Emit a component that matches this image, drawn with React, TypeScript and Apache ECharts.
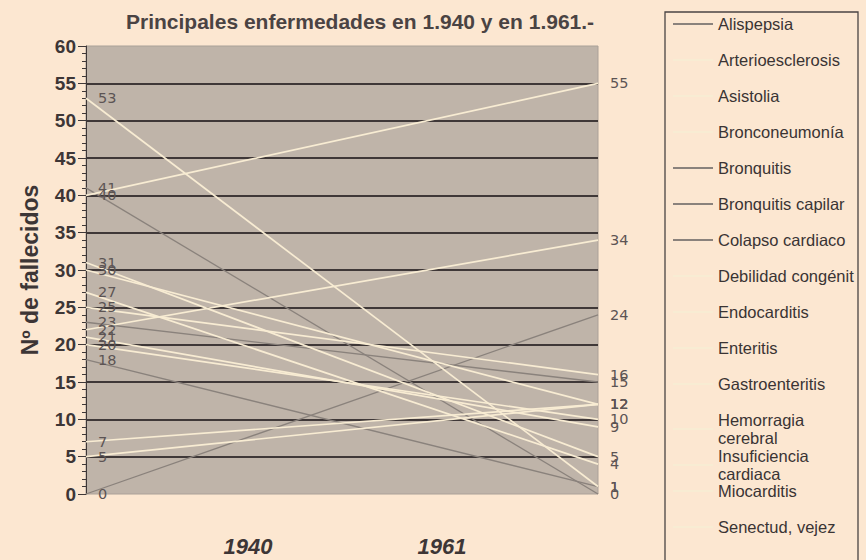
import React, { useEffect, useRef } from "react";
import * as echarts from "echarts";

// ---- data ----
const years = ["1940", "1961"];
const diseases = [
  "Alispepsia",
  "Arterioesclerosis",
  "Asistolia",
  "Bronconeumonía",
  "Bronquitis",
  "Bronquitis capilar",
  "Colapso cardiaco",
  "Debilidad congénita",
  "Endocarditis",
  "Enteritis",
  "Gastroenteritis",
  "Hemorragia cerebral",
  "Insuficiencia cardiaca",
  "Miocarditis",
  "Senectud, vejez",
];
const deaths1940 = [18, 22, 27, 53, 23, 41, 0, 25, 21, 31, 30, 7, 5, 20, 40];
const deaths1961 = [1, 34, 4, 1, 15, 0, 24, 16, 9, 5, 12, 12, 12, 10, 55];
const grayDiseases = ["Alispepsia", "Bronquitis", "Bronquitis capilar", "Colapso cardiaco"];
const wrappedNames = ["Hemorragia cerebral", "Insuficiencia cardiaca"];
const title = "Principales enfermedades en 1.940 y en 1.961.-";
const yName = "Nº de fallecidos";

// ---- styles ----
const BG = "#fce7d1";
const PLOT_BG = "#bfb4a9";
const CREAM = "#f8ecd3";
const GRAY = "#8a827c";
const DARK = "#3f3838";

export default function App() {
  const ref = useRef<HTMLDivElement>(null);

  useEffect(() => {
    if (!ref.current) return;
    const chart = echarts.init(ref.current, undefined, { renderer: "svg" });

    const series = diseases.map((name, i) => {
      const gray = grayDiseases.includes(name);
      return {
        name,
        type: "line",
        xAxisIndex: 0,
        yAxisIndex: 0,
        data: [deaths1940[i], deaths1961[i]],
        symbol: "circle",
        symbolSize: 0,
        showSymbol: true,
        lineStyle: { color: gray ? GRAY : CREAM, width: gray ? 1.3 : 1.7 },
        itemStyle: { color: gray ? GRAY : CREAM },
        label: {
          show: true,
          position: "right",
          distance: 12,
          formatter: "{c}",
          fontFamily: "DejaVu Sans",
          fontSize: 14.5,
          color: "#5c5454",
        },
        emphasis: { disabled: true },
        z: gray ? 2 : 3,
      };
    });

    const legendBase = {
      orient: "vertical",
      left: 672,
      itemWidth: 40,
      itemHeight: 2,
      padding: 0,
      selectedMode: false,
      itemStyle: { opacity: 0 },
      formatter: (name: string) =>
        wrappedNames.includes(name) ? name.replace(" ", "\n") : name,
      textStyle: {
        fontFamily: "Liberation Sans",
        fontSize: 16.5,
        lineHeight: 18,
        color: "#3a3434",
        width: 141,
        overflow: "truncate",
        ellipsis: "",
      },
    };

    const firstGroup = diseases.filter(
      (d) => !wrappedNames.includes(d) && d !== "Miocarditis" && d !== "Senectud, vejez"
    );
    const lastGroup = ["Miocarditis", "Senectud, vejez"];

    chart.setOption({
      animation: false,
      backgroundColor: BG,
      title: {
        text: title,
        left: 121,
        top: 6,
        textStyle: {
          fontFamily: "Liberation Sans",
          fontSize: 21,
          fontWeight: "bold",
          color: "#4a4343",
        },
      },
      legend: [
        { ...legendBase, top: 15, itemGap: 18, data: firstGroup },
        { ...legendBase, top: 411, itemGap: 0, data: wrappedNames },
        { ...legendBase, top: 482, itemGap: 18, data: lastGroup },
      ],
      grid: [
        {
          left: 86,
          top: 46,
          width: 512,
          height: 448,
          show: true,
          backgroundColor: PLOT_BG,
          borderColor: "#aaa198",
          borderWidth: 1,
        },
        { left: 151, top: 46, width: 388, height: 448 },
      ],
      xAxis: [
        {
          type: "category",
          gridIndex: 0,
          data: years,
          boundaryGap: false,
          axisLine: { show: false },
          axisTick: { show: false },
          axisLabel: { show: false },
          splitLine: { show: false },
        },
        {
          type: "category",
          gridIndex: 1,
          data: years,
          boundaryGap: true,
          axisLine: { show: false },
          axisTick: { show: false },
          splitLine: { show: false },
          axisLabel: {
            margin: 41,
            fontFamily: "Liberation Sans",
            fontSize: 22,
            fontWeight: "bold",
            fontStyle: "italic",
            color: "#3d3636",
          },
        },
      ],
      yAxis: [
        {
          type: "value",
          gridIndex: 0,
          min: 0,
          max: 60,
          interval: 5,
          name: yName,
          nameLocation: "middle",
          nameRotate: 90,
          nameGap: 45,
          nameTextStyle: {
            fontFamily: "Liberation Sans",
            fontSize: 23,
            fontWeight: "bold",
            color: "#3d3636",
          },
          axisLine: { show: true, lineStyle: { color: DARK, width: 1 } },
          axisTick: { show: true, length: 8, lineStyle: { color: DARK } },
          minorTick: { show: true, splitNumber: 5, length: 4, lineStyle: { color: DARK } },
          axisLabel: {
            margin: 10,
            fontFamily: "Liberation Sans",
            fontSize: 19,
            fontWeight: "bold",
            color: "#3d3636",
          },
          splitLine: {
            show: true,
            lineStyle: {
              color: [
                "rgba(0,0,0,0)",
                DARK, DARK, DARK, DARK, DARK, DARK, DARK, DARK, DARK, DARK, DARK,
                "rgba(0,0,0,0)",
              ],
              width: 1.8,
            },
          },
        },
        { type: "value", gridIndex: 1, show: false, min: 0, max: 60 },
      ],
      graphic: [
        {
          type: "rect",
          shape: { x: 665, y: 12, width: 193, height: 600 },
          style: { fill: "none", stroke: "#4a4444", lineWidth: 1.3 },
          silent: true,
        },
      ],
      series,
    });

    return () => chart.dispose();
  }, []);

  return (
    <div
      ref={ref}
      style={{ position: "fixed", left: 0, top: 0, width: 866, height: 560 }}
    />
  );
}
